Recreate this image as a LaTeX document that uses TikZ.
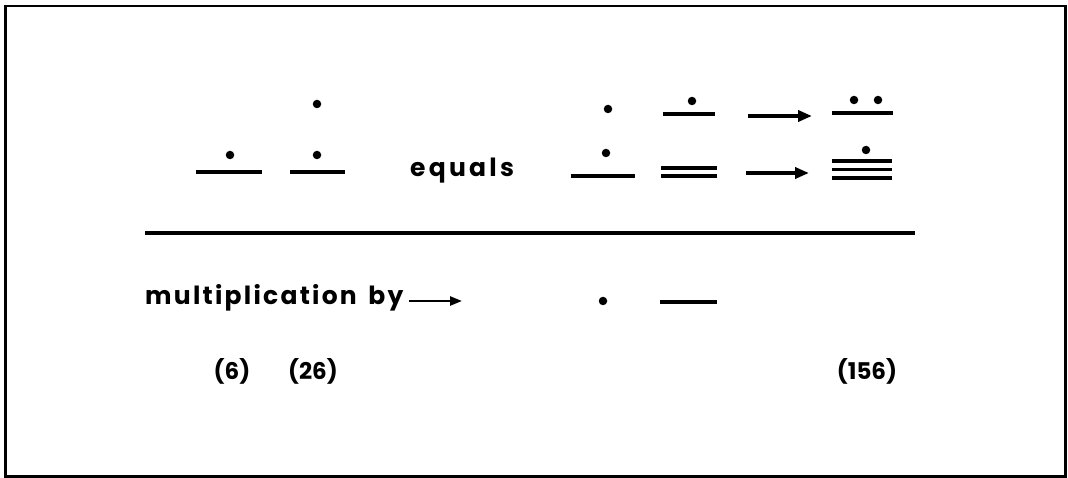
\documentclass[tikz,border=0pt]{standalone}
\usepackage{fontspec}
\setmainfont{Poppins}
\newfontfamily\txtfont[LetterSpace=9]{Poppins}
\newfontfamily\eqfont[LetterSpace=13]{Poppins}
\usetikzlibrary{arrows.meta}
\begin{document}
\begin{tikzpicture}[x=1pt,y=-1pt,
  bar/.style={line width=3.6pt},
  spot/.style={circle,fill,inner sep=0pt,minimum size=8.5pt},
  bigarrow/.style={line width=3.6pt,-{Triangle[length=14pt,width=11pt]}},
  smallarrow/.style={line width=2.4pt,-{Triangle[length=12pt,width=9pt]}},
  txt/.style={font=\txtfont\bfseries\fontsize{25}{25}\selectfont, inner sep=0pt, anchor=base west},
  eqtxt/.style={font=\eqfont\bfseries\fontsize{25}{25}\selectfont, inner sep=0pt, anchor=base west},
  lab/.style={font=\bfseries\fontsize{23}{23}\selectfont, inner sep=0pt, anchor=base}
]
\useasboundingbox (0,0) rectangle (1068,478);
\draw[line width=2.8pt] (5.5,6) rectangle (1065.5,476.5);

% (6)
\draw[bar] (196,172) -- (262,172);
\node[spot] (g1a) at (230,155) {};
% (26)
\draw[bar] (290,172) -- (345,172);
\node[spot] (g2a) at (317,155) {};
\node[spot] (g2b) at (317,104) {};
% equals
\node[eqtxt] (eq) at (410,177) {equals};
% result left column
\node[spot] (g3a) at (608,109) {};
\node[spot] (g3b) at (606,153) {};
\draw[bar] (571,176) -- (635,176);
% second column
\node[spot] (g4a) at (692,101) {};
\draw[bar] (663,114) -- (715,114);
\draw[bar] (661,168) -- (717,168);
\draw[bar] (661,176) -- (717,176);
% arrows
\coordinate (a1s) at (748,116);
\coordinate (a1e) at (812,116);
\coordinate (a2s) at (746,173);
\coordinate (a2e) at (809,173);
\draw[bigarrow] (a1s) -- (a1e);
\draw[bigarrow] (a2s) -- (a2e);
% result column
\draw[bar] (832,113) -- (893,113);
\node[spot] (g5a) at (854,100) {};
\node[spot] (g5b) at (878,100) {};
\node[spot] (g6a) at (866,150) {};
\draw[bar] (832,161) -- (892,161);
\draw[bar] (832,169.5) -- (892,169.5);
\draw[bar] (832,178) -- (892,178);

% rule
\draw[line width=4pt] (145,233) -- (915,233);

% multiplication by
\node[txt] (mult) at (145,305) {multiplication\hspace{4pt} by};
\coordinate (m1s) at (409,301);
\coordinate (m1e) at (462,301);
\draw[smallarrow] (m1s) -- (m1e);
\node[spot] (m2) at (603,301) {};
\draw[bar] (660,302) -- (717,302);

% labels
\node[lab] (l6) at (232,379) {(6)};
\node[lab] (l26) at (313,379) {(26)};
\node[lab] (l156) at (867,379) {(156)};
\end{tikzpicture}
\end{document}
